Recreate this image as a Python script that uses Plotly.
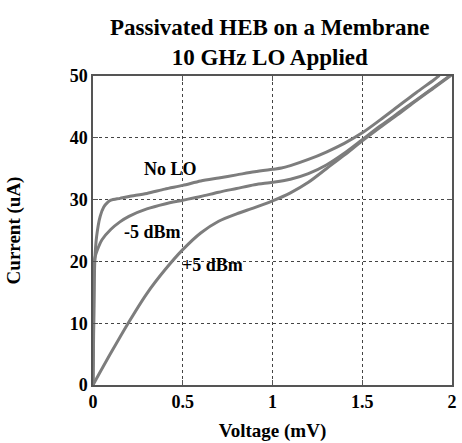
import plotly.graph_objects as go

# Voltage (mV) / Current (uA)
v_nolo = [0, 0.005, 0.01, 0.02, 0.04, 0.06, 0.08, 0.1, 0.15, 0.2, 0.3, 0.4, 0.5, 0.6, 0.7, 0.8, 0.9, 1.0, 1.05, 1.1, 1.2, 1.3, 1.4, 1.5, 1.6, 1.7, 1.8, 1.9, 1.93]
i_nolo = [0, 12, 20, 24, 27.3, 28.8, 29.5, 29.9, 30.2, 30.5, 31.0, 31.7, 32.3, 33.0, 33.5, 34.0, 34.5, 34.9, 35.1, 35.5, 36.5, 37.7, 39.1, 40.8, 42.9, 45.1, 47.3, 49.4, 50.1]

v_m5 = [0, 0.005, 0.01, 0.03, 0.05, 0.1, 0.15, 0.2, 0.3, 0.4, 0.5, 0.6, 0.7, 0.8, 0.9, 1.0, 1.1, 1.2, 1.3, 1.4, 1.5, 1.6, 1.7, 1.8, 1.9, 2.0]
i_m5 = [0, 15, 20.5, 22.3, 23.5, 25.2, 26.4, 27.3, 28.5, 29.3, 29.9, 30.5, 31.2, 31.8, 32.4, 32.8, 33.3, 34.2, 35.6, 37.5, 39.7, 41.9, 44.0, 46.1, 48.2, 50.3]

v_p5 = [0, 0.1, 0.2, 0.3, 0.4, 0.5, 0.6, 0.7, 0.8, 0.9, 1.0, 1.1, 1.2, 1.3, 1.4, 1.5, 1.6, 1.7, 1.8, 1.9, 2.0]
i_p5 = [0, 5.2, 10.2, 14.8, 18.6, 21.9, 24.6, 26.5, 27.7, 28.7, 29.8, 31.1, 32.8, 35.0, 37.2, 39.5, 41.7, 43.8, 46.0, 48.1, 50.2]

x_ticks = [0, 0.5, 1, 1.5, 2]
x_ticktext = ["0", "0.5", "1", "1.5", "2"]
y_ticks = [0, 10, 20, 30, 40, 50]

labels = ["No LO", "-5 dBm", "+5 dBm"]
label_x = [0.43, 0.33, 0.665]
label_y = [35.0, 24.8, 19.4]

FONT = "Liberation Serif, Times New Roman, serif"
LINE = "#7d7d7d"

fig = go.Figure()
for vx, iy in [(v_nolo, i_nolo), (v_m5, i_m5), (v_p5, i_p5)]:
    fig.add_trace(go.Scatter(x=vx, y=iy, mode="lines", line=dict(color=LINE, width=3, shape="spline", smoothing=0.8),
                             showlegend=False, hoverinfo="skip"))

for t, x, y in zip(labels, label_x, label_y):
    fig.add_annotation(x=x, y=y, text=t, showarrow=False,
                       font=dict(family=FONT, size=18, color="black", weight="bold"))

fig.add_annotation(xref="paper", yref="paper", x=0.493, y=1.11, xanchor="center", yanchor="middle",
                   text="Passivated HEB on a Membrane<br>10 GHz LO Applied", showarrow=False,
                   font=dict(family=FONT, size=23, color="black", weight="bold"))

axis_common = dict(showline=True, linecolor="#555555", linewidth=1.5, mirror="ticks",
                   ticks="inside", ticklen=5, tickcolor="#555555",
                   showgrid=True, gridcolor="#444444", griddash="dot", gridwidth=1,
                   zeroline=False,
                   tickfont=dict(family=FONT, size=18, color="black", weight="bold"))

fig.update_layout(
    width=462, height=443,
    margin=dict(l=93, r=5, t=76, b=52),
    paper_bgcolor="white", plot_bgcolor="white",
    xaxis=dict(range=[0, 2], tickvals=x_ticks, ticktext=x_ticktext,
               title=dict(text="Voltage (mV)", standoff=12,
                          font=dict(family=FONT, size=19, color="black", weight="bold")),
               **axis_common),
    yaxis=dict(range=[0, 50], tickvals=y_ticks,
               title=dict(text="Current (uA)", standoff=44,
                          font=dict(family=FONT, size=19, color="black", weight="bold")),
               **axis_common),
)

fig.write_html("out.html")
